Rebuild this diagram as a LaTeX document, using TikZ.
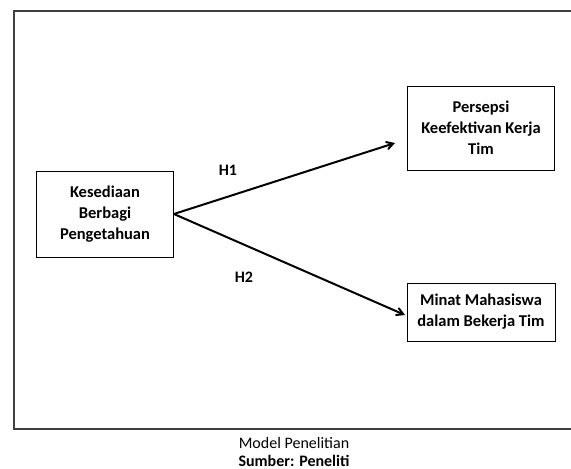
\documentclass[tikz,border=0pt]{standalone}
\usepackage{fontspec}
\setmainfont{Carlito}
\usetikzlibrary{positioning, arrows}

\tikzset{
  varbox/.style={draw, thick, align=center, font=\bfseries\fontsize{16.5}{21}\selectfont, inner sep=2pt},
  hyp/.style={->, >=angle 60, line width=2pt},
  hlabel/.style={font=\bfseries\fontsize{16}{18}\selectfont}
}

\begin{document}
\begin{tikzpicture}[x=1pt, y=-1pt]
    \useasboundingbox (0,0) rectangle (571,469);
    % frame (right side runs off the page)
    \draw [line width=1.5pt, black!75] (571,11) -| (14,429) -- (571,429);

    \node [varbox, minimum width=137pt, minimum height=86pt] (kesediaan) at (105,214)
      {Kesediaan\\Berbagi\\Pengetahuan};
    \node [varbox, minimum width=147pt, minimum height=84pt] (persepsi) at (481,128)
      {Persepsi\\Keefektivan Kerja\\Tim};
    \node [varbox, minimum width=148pt, minimum height=58pt] (minat) at (481,312)
      {Minat Mahasiswa\\dalam Bekerja Tim};

    \coordinate (tip1) at (395,143);
    \coordinate (tip2) at (405,315);
    \draw [hyp] (kesediaan.east) -- (tip1);
    \draw [hyp] (kesediaan.east) -- (tip2);

    \node [hlabel] (h1) at (228,170) {H1};
    \node [hlabel] (h2) at (244,277) {H2};

    \node [font=\fontsize{16}{18}\selectfont, inner sep=1pt] (model) at (294,443) {Model Penelitian};
    \node [font=\bfseries\fontsize{16}{18}\selectfont, inner sep=1pt, below=4pt of model] (sumber) {Sumber: Peneliti};
\end{tikzpicture}
\end{document}
